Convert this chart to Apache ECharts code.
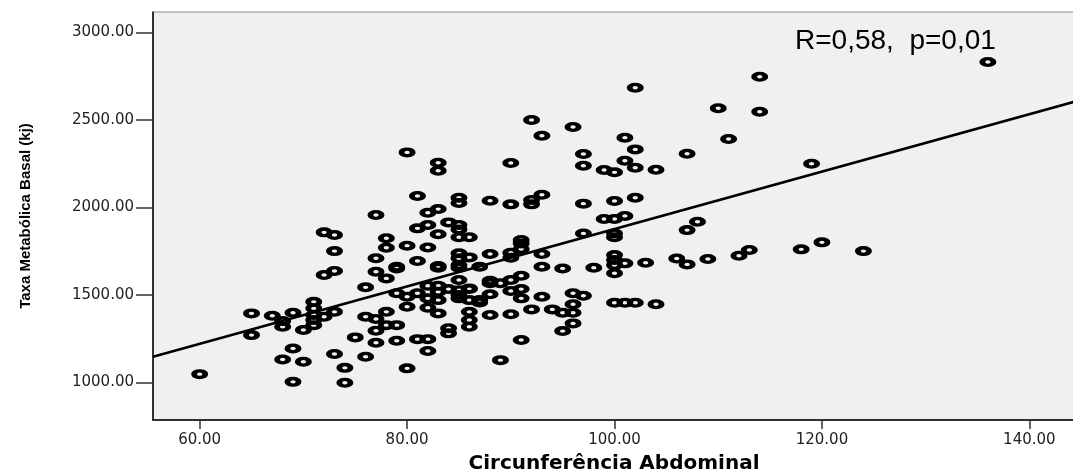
<!DOCTYPE html>
<html>
<head>
<meta charset="utf-8">
<script src="https://cdn.jsdelivr.net/npm/echarts@6/dist/echarts.min.js"></script>
<style>
html,body{margin:0;padding:0;background:#fff;}
#chart{width:1073px;height:472px;}
</style>
</head>
<body>
<div id="chart"></div>
<script>
// Circunferência Abdominal (cm) vs Taxa Metabólica Basal (kj)
const points = [
  [60,1047],[65,1394],[65,1270],[67,1381],[68,1350],[68,1318],[69,1398],[70,1299],
  [71,1460],[71,1423],[71,1385],[71,1356],[71,1327],[72,1375],[73,1403],
  [69,1194],[68,1131],[70,1118],[69,1003],[73,1162],[74,1083],[74,998],[75,1257],
  [76,1146],[76,1375],[76,1543],[77,1362],[77,1295],[77,1226],[78,1403],[78,1327],
  [79,1327],[79,1238],[80,1080],[81,1247],[82,1247],[82,1179],[80,1432],[82,1426],[83,1394],
  [84,1309],[84,1280],[72,1613],[73,1636],[77,1632],[78,1594],[79,1651],
  [79,1509],[80,1489],[81,1509],[82,1552],[83,1552],[83,1518],[82,1480],[83,1470],
  [84,1533],[85,1499],[85,1480],[86,1537],[86,1470],[85,1527],[85,1585],[83,1655],[85,1655],
  [72,1857],[73,1842],[73,1750],[80,2314],[83,2255],[83,2209],[81,2065],[85,2055],[85,2025],
  [82,1969],[83,1990],[77,1956],[81,1880],[82,1899],[84,1914],[85,1899],[85,1874],[83,1846],
  [85,1829],[86,1829],[78,1823],[78,1769],[80,1781],[82,1771],[77,1709],[81,1693],
  [85,1737],[85,1709],[85,1670],[83,1665],[79,1661],
  [102,2683],[92,2499],[96,2459],[93,2409],[101,2398],[102,2331],
  [107,2306],[90,2253],[97,2305],[97,2238],[99,2213],[100,2200],[101,2266],[102,2226],[104,2215],
  [88,2038],[90,2017],[92,2042],[92,2017],[93,2072],[97,2021],[100,2036],[102,2055],
  [99,1933],[100,1933],[101,1951],[107,1870],[108,1918],[97,1851],[100,1851],[100,1829],
  [91,1813],[91,1794],[91,1762],[90,1741],[90,1712],[88,1733],[86,1714],
  [93,1733],[87,1661],[93,1661],[95,1651],[98,1655],[100,1727],[100,1699],[100,1670],[101,1680],
  [103,1683],[106,1708],[107,1674],[100,1623],[88,1581],[88,1566],[89,1566],[90,1585],[91,1609],
  [86,1533],[87,1470],[87,1457],[88,1503],[90,1522],[91,1533],[91,1480],[93,1489],
  [96,1509],[97,1495],[96,1446],[92,1417],[94,1417],[95,1398],[96,1398],
  [100,1455],[101,1455],[102,1455],[104,1446],[86,1403],[86,1356],[86,1318],
  [88,1385],[90,1389],[96,1337],[95,1293],[91,1242],[89,1127],
  [114,2746],[110,2566],[114,2546],[111,2390],[119,2249],
  [109,1705],[112,1723],[113,1756],[118,1760],[120,1800],[124,1750],[136,2830]
];
// Fit line end points
const fitLine = [[55.5,1146],[144.4,2604]];
const xTicks = [60,80,100,120,140];
const yTicks = [1000,1500,2000,2500,3000];
const xRange = [55.5,144.4];
const yRange = [785,3116];
const xTitle = 'Circunferência Abdominal';
const yTitle = 'Taxa Metabólica Basal (kj)';
const annotation = 'R=0,58,  p=0,01';

const ring = 'path://M0 5 A8.5 5 0 1 0 17 5 A8.5 5 0 1 0 0 5 Z M5.8 5 A2.7 1.7 0 1 1 11.2 5 A2.7 1.7 0 1 1 5.8 5 Z';
const labelFont = "'DejaVu Sans', Arial, sans-serif";

const chart = echarts.init(document.getElementById('chart'), null, {renderer:'canvas'});
chart.setOption({
  animation:false,
  backgroundColor:'#ffffff',
  title:{
    text:annotation, left:790, top:22,
    textStyle:{fontFamily:"'Liberation Sans', Arial, sans-serif", fontSize:28, fontWeight:'normal', color:'#000'}
  },
  grid:{left:153, right:-2, top:12, bottom:52, outerBoundsMode:'none', containLabel:false,
        show:true, backgroundColor:'#f0f0f0', borderColor:'#8a8a8a', borderWidth:1},
  xAxis:{
    type:'value', min:xRange[0], max:xRange[1],
    name:xTitle, nameLocation:'middle', nameGap:34,
    nameTextStyle:{fontFamily:labelFont, fontSize:20, fontWeight:'bold', color:'#000'},
    splitLine:{show:false},
    axisLine:{show:true, onZero:false, lineStyle:{color:'#000', width:1.5}},
    axisTick:{show:true, length:9, customValues:xTicks, lineStyle:{color:'#333', width:1.5}},
    axisLabel:{customValues:xTicks, formatter:v=>v.toFixed(2), margin:13, fontFamily:labelFont, fontSize:15, color:'#222'}
  },
  yAxis:{
    type:'value', min:yRange[0], max:yRange[1],
    name:yTitle, nameLocation:'middle', nameGap:120, nameRotate:90,
    nameTextStyle:{fontFamily:"'Liberation Sans', Arial, sans-serif", fontSize:15, fontWeight:'bold', color:'#000'},
    splitLine:{show:false},
    axisLine:{show:true, onZero:false, lineStyle:{color:'#000', width:1.5}},
    axisTick:{show:true, length:17, customValues:yTicks, lineStyle:{color:'#333', width:1.5}},
    axisLabel:{customValues:yTicks, formatter:v=>v.toFixed(2), margin:19, fontFamily:labelFont, fontSize:15, color:'#222'}
  },
  series:[
    {type:'scatter', data:points, symbol:ring, symbolSize:[17,10], itemStyle:{color:'#000', opacity:1}, z:2},
    {type:'line', data:fitLine, showSymbol:false, symbol:'none', lineStyle:{color:'#000', width:2.5}, z:3, clip:true}
  ]
});
</script>
</body>
</html>
